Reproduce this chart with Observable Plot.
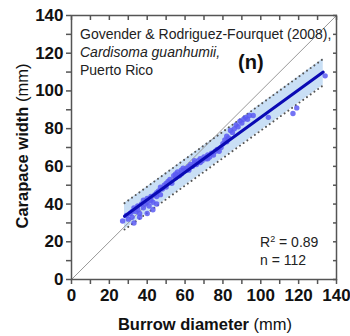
<!DOCTYPE html>
<html><head><meta charset="utf-8">
<script src="https://cdn.jsdelivr.net/npm/d3@7"></script>
<script src="https://cdn.jsdelivr.net/npm/@observablehq/plot@0.6"></script>
<style>body{margin:0;background:#fff;font-family:"Liberation Sans",Arial,sans-serif}#c{position:relative;width:350px;height:336px;overflow:hidden}</style>
</head><body><div id="c"></div>
<script>
const burrowDiameter = [27,29,30,31,32,32,33,34,35,35,36,37,38,38,39,40,40,41,42,42,43,44,45,45,46,47,47,48,49,50,50,51,52,53,54,55,55,56,57,58,58,59,60,61,62,62,63,64,65,65,66,67,68,68,69,70,71,72,72,73,74,75,76,77,78,79,80,81,82,82,83,84,85,86,87,88,89,90,91,92,93,94,96,104,117,119,134,33,36,40,43,45];
const carapaceWidth = [31,34,32,35,33,36,38,36,37,39,35,40,38,42,40,41,43,39,42,44,41,45,46,44,47,45,49,48,50,51,49,52,53,51,55,54,56,57,55,58,56,59,58,59,60,58,61,60,62,63,61,63,62,64,63,65,64,66,64,65,67,66,68,69,68,70,72,74,73,76,75,79,78,80,82,81,84,83,85,86,85,87,87,86,88,91,108,30,33,35,37,40];
const fitX = [28, 133];
const fitY = [33.5, 110];
const upperY = [40.5, 117];
const lowerY = [26.5, 103];
const oneToOne = [0, 140];
const majorTicks = [0,20,40,60,80,100,120,140];
const minorTicks = d3.range(0,141,10);

const pts = burrowDiameter.map((x,i)=>({x, y: carapaceWidth[i]}));
const band = fitX.map((x,i)=>({x, fit: fitY[i], hi: upperY[i], lo: lowerY[i]}));
const diag = oneToOne.map(v=>({x:v,y:v}));

const plot = Plot.plot({
  width: 350, height: 336,
  marginLeft: 71, marginRight: 14, marginTop: 15, marginBottom: 57,
  style: {fontFamily: "Liberation Sans, Arial, sans-serif", background: "white"},
  x: {domain: [0,140]},
  y: {domain: [0,140]},
  marks: [
    Plot.areaY(band, {x: "x", y1: "lo", y2: "hi", fill: "#c9dff5"}),
    Plot.line(diag, {x: "x", y: "y", stroke: "#999", strokeWidth: 1}),
    Plot.line(band, {x: "x", y: "hi", stroke: "#555", strokeWidth: 2, strokeDasharray: "0.1 4.5", strokeLinecap: "round"}),
    Plot.line(band, {x: "x", y: "lo", stroke: "#555", strokeWidth: 2, strokeDasharray: "0.1 4.5", strokeLinecap: "round"}),
    Plot.dot(pts, {x: "x", y: "y", r: 2.7, fill: "#5b5bf2", fillOpacity: 0.85, stroke: "none"}),
    Plot.line(band, {x: "x", y: "fit", stroke: "#0a0ab4", strokeWidth: 3}),
    Plot.axisX(minorTicks, {anchor: "bottom", tickSize: 5, tickPadding: 4, stroke: "#555", strokeWidth: 1.5, tickFormat: d => d % 20 ? "" : d, fontSize: 17, fontWeight: "bold", fill: "#111", label: null}),
    Plot.axisY(minorTicks, {anchor: "left", tickSize: 5, tickPadding: 3, stroke: "#555", strokeWidth: 1.5, tickFormat: d => d % 20 ? "" : d, fontSize: 17, fontWeight: "bold", fill: "#111", label: null}),
    Plot.axisX(minorTicks, {anchor: "top", tickSize: 4, dy: 4, stroke: "#555", strokeWidth: 1.5, tickFormat: () => "", label: null}),
    Plot.axisY(minorTicks, {anchor: "right", tickSize: 4, dx: -4, stroke: "#555", strokeWidth: 1.5, tickFormat: () => "", label: null}),
    Plot.frame({stroke: "#555", strokeWidth: 1.5})
  ]
});
document.getElementById("c").appendChild(plot);

const svg = d3.select(plot);
const ann = svg.append("g").attr("font-family", "Liberation Sans, Arial, sans-serif").attr("fill", "#222").attr("text-anchor", "start");
ann.append("text").attr("x", 80).attr("y", 39).attr("font-size", 14).text("Govender & Rodriguez-Fourquet (2008),");
ann.append("text").attr("x", 80).attr("y", 57).attr("font-size", 14).attr("font-style", "italic").text("Cardisoma guanhumii,");
ann.append("text").attr("x", 80).attr("y", 75).attr("font-size", 14).text("Puerto Rico");
ann.append("text").attr("x", 238).attr("y", 69).attr("font-size", 20).attr("font-weight", "bold").attr("fill", "#111").text("(n)");
const r2 = ann.append("text").attr("x", 260).attr("y", 247).attr("font-size", 14);
r2.append("tspan").text("R");
r2.append("tspan").attr("font-size", 9).attr("dy", -5).text("2");
r2.append("tspan").attr("dy", 5).text(" = 0.89");
ann.append("text").attr("x", 260).attr("y", 265).attr("font-size", 14).text("n = 112");

const xl = ann.append("text").attr("x", 205).attr("y", 330).attr("text-anchor", "middle").attr("font-size", 16.5).attr("fill", "#111");
xl.append("tspan").attr("font-weight", "bold").text("Burrow diameter");
xl.append("tspan").text(" (mm)");
const yl = ann.append("text").attr("transform", "translate(28,146) rotate(-90)").attr("text-anchor", "middle").attr("font-size", 16.5).attr("fill", "#111");
yl.append("tspan").attr("font-weight", "bold").text("Carapace width");
yl.append("tspan").text(" (mm)");
</script>
</body></html>
